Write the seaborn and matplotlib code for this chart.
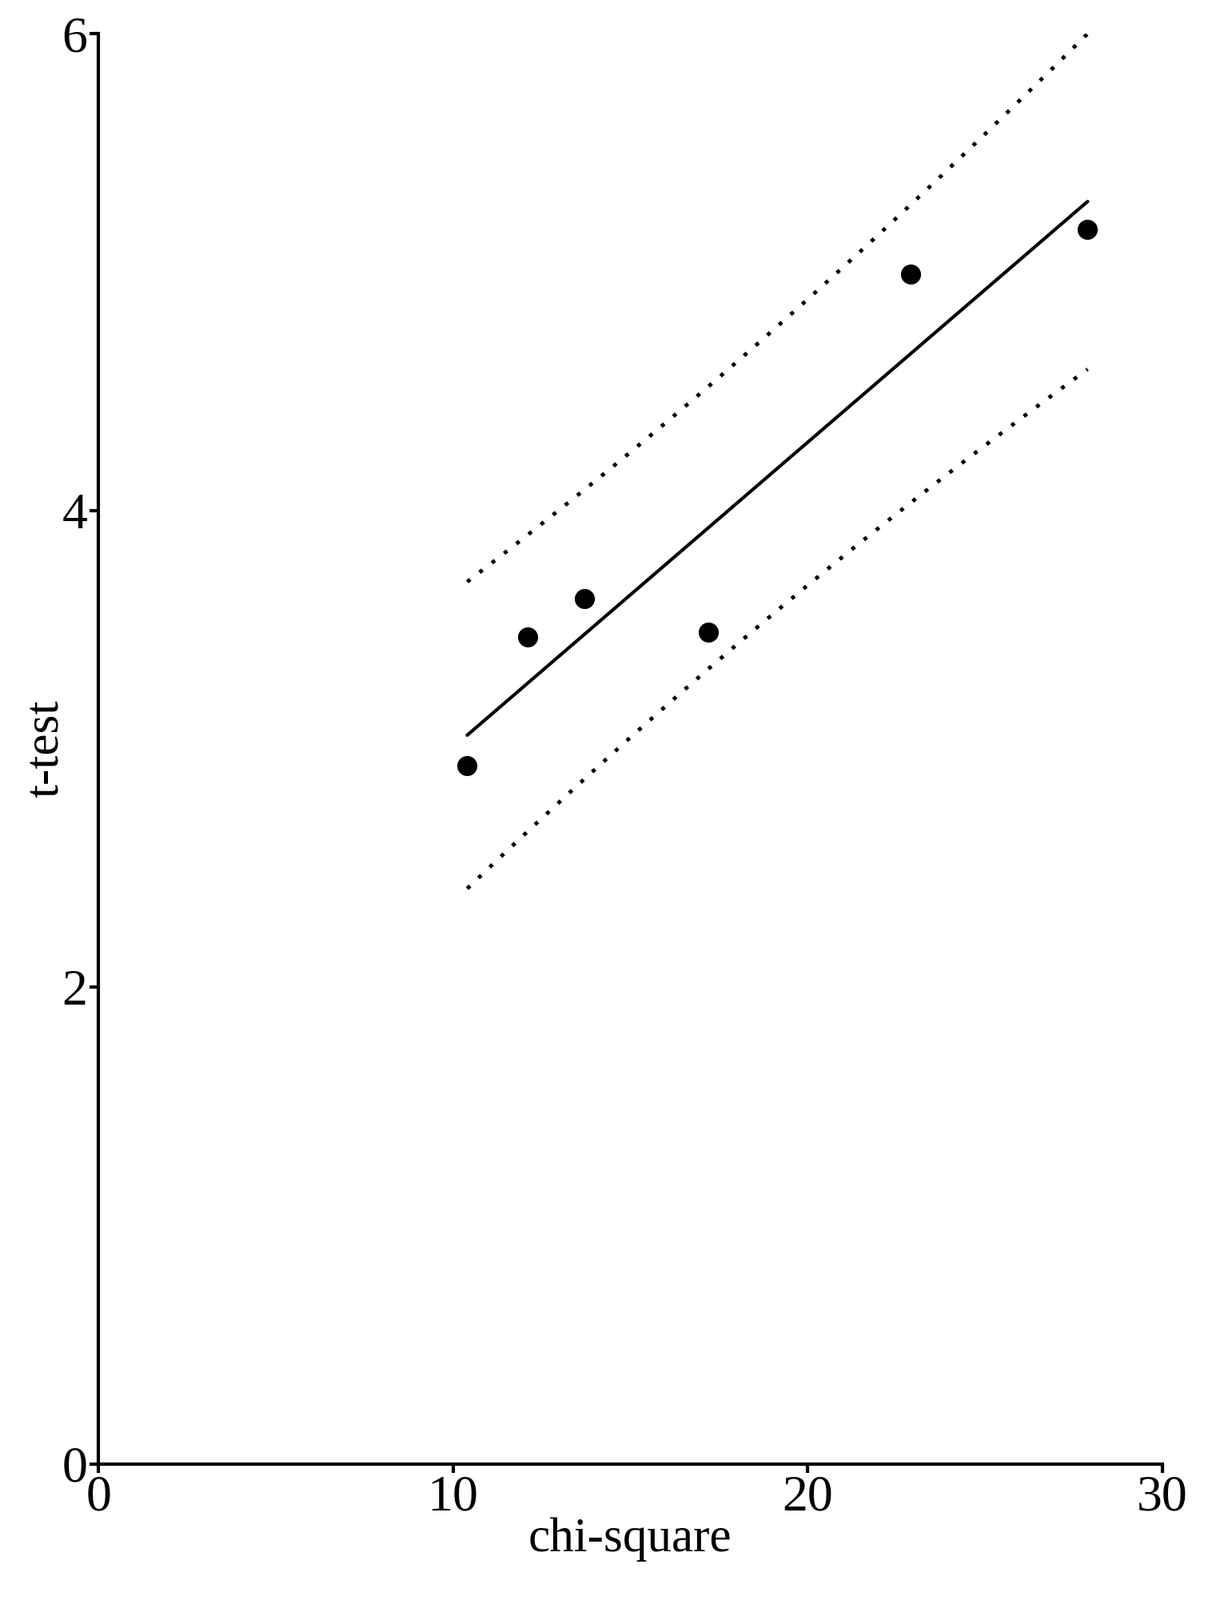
import matplotlib
matplotlib.use("Agg")
import matplotlib.pyplot as plt
import numpy as np
import pandas as pd
import seaborn as sns

chi_square = [10.4, 12.1, 13.7, 17.2, 22.9, 27.9]
t_test = [2.93, 3.47, 3.63, 3.49, 4.99, 5.18]
df = pd.DataFrame({"chi-square": chi_square, "t-test": t_test})

sns.set_style("ticks")
plt.rcParams["font.family"] = ["Liberation Serif", "DejaVu Serif"]

fig = plt.figure(figsize=(15.11, 20.02), dpi=100)
ax = fig.add_axes([0.0815, 0.085, 0.8805, 0.894])

# linear fit and prediction band
x = np.array(chi_square)
y = np.array(t_test)
n = len(x)
slope, intercept = np.polyfit(x, y, 1)
resid = y - (slope * x + intercept)
s = np.sqrt((resid ** 2).sum() / (n - 2))
t_crit = 1.75
xs = np.linspace(x.min(), x.max(), 100)
fit = slope * xs + intercept
half = t_crit * s * np.sqrt(1 + 1 / n + (xs - x.mean()) ** 2 / ((x - x.mean()) ** 2).sum())

sns.lineplot(x=xs, y=fit, color="black", lw=3, ax=ax)
sns.lineplot(x=xs, y=fit + half, color="black", lw=3.5, ls=(0, (1, 3)), ax=ax)
sns.lineplot(x=xs, y=fit - half, color="black", lw=3.5, ls=(0, (1, 3)), ax=ax)
sns.scatterplot(data=df, x="chi-square", y="t-test", color="black", s=280, edgecolor="black", ax=ax, zorder=5)

ax.set_xlim(0, 30)
ax.set_ylim(0, 6)
ax.set_xticks([0, 10, 20, 30])
ax.set_yticks([0, 2, 4, 6])
ax.tick_params(labelsize=46, width=3, length=8, direction="out", pad=2, colors="black")
for sp in ["left", "bottom"]:
    ax.spines[sp].set_linewidth(3)
    ax.spines[sp].set_color("black")
sns.despine(ax=ax)
ax.set_xlabel("chi-square", fontsize=44, labelpad=-4, color="black")
ax.set_ylabel("t-test", fontsize=44, labelpad=-6, color="black")

fig.savefig("out.png", dpi=100)
